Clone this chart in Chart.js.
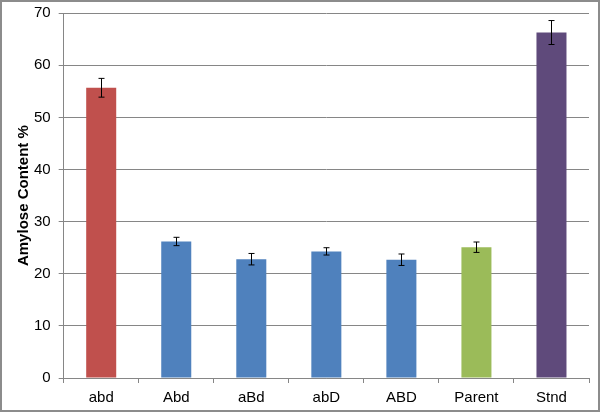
<!DOCTYPE html>
<html>
<head>
<meta charset="utf-8">
<script src="https://cdn.jsdelivr.net/npm/chart.js@4/dist/chart.umd.min.js"></script>
<style>
  html, body { margin: 0; padding: 0; background: #fff; }
  #wrap { width: 600px; height: 412px; position: relative; }
</style>
</head>
<body>
<div id="wrap"><canvas id="chart"></canvas></div>
<script>
// データ
const categories = ['abd', 'Abd', 'aBd', 'abD', 'ABD', 'Parent', 'Stnd'];
const amylose = [55.7, 26.2, 22.8, 24.3, 22.7, 25.1, 66.3];
const errors = [1.8, 0.8, 1.1, 0.7, 1.1, 1.0, 2.3];
const barColors = ['#C0504D', '#4F81BD', '#4F81BD', '#4F81BD', '#4F81BD', '#9BBB59', '#5F4A7B'];

// エラーバー描画
const errorBars = {
    id: 'errorBars',
    afterDatasetsDraw(chart) {
        const ctx = chart.ctx;
        const y = chart.scales.y;
        const meta = chart.getDatasetMeta(0);
        ctx.save();
        ctx.strokeStyle = '#000';
        ctx.lineWidth = 1;
        meta.data.forEach((bar, i) => {
            const x = Math.round(bar.x) + 0.5;
            const top = y.getPixelForValue(amylose[i] + errors[i]);
            const bot = y.getPixelForValue(amylose[i] - errors[i]);
            ctx.beginPath();
            ctx.moveTo(x, top);
            ctx.lineTo(x, bot);
            ctx.moveTo(x - 3, top);
            ctx.lineTo(x + 3, top);
            ctx.moveTo(x - 3, bot);
            ctx.lineTo(x + 3, bot);
            ctx.stroke();
        });
        ctx.restore();
    }
};

// 外枠
const frame = {
    id: 'frame',
    afterDraw(chart) {
        const ctx = chart.ctx;
        ctx.save();
        ctx.strokeStyle = '#8c8c8c';
        ctx.lineWidth = 2;
        ctx.strokeRect(1, 1, chart.width - 2, chart.height - 2);
        ctx.restore();
    }
};

new Chart(document.getElementById('chart'), {
    type: 'bar',
    data: {
        labels: categories,
        datasets: [{
            data: amylose,
            backgroundColor: barColors,
            borderWidth: 0,
            categoryPercentage: 1.0,
            barPercentage: 0.4
        }]
    },
    options: {
        responsive: true,
        maintainAspectRatio: false,
        animation: false,
        layout: { padding: { top: 0, right: 11, left: 15, bottom: 0 } },
        plugins: {
            legend: { display: false },
            tooltip: { enabled: false }
        },
        scales: {
            x: {
                grid: {
                    offset: true,
                    drawOnChartArea: false,
                    drawTicks: true,
                    tickLength: 5,
                    color: '#868686'
                },
                border: { color: '#868686' },
                ticks: {
                    color: '#000',
                    font: { family: 'Liberation Sans', size: 15, lineHeight: 1 },
                    padding: 7
                }
            },
            y: {
                min: 0,
                max: 70,
                ticks: {
                    stepSize: 10,
                    color: '#000',
                    font: { family: 'Liberation Sans', size: 15, lineHeight: 0.7 },
                    padding: 8
                },
                grid: {
                    color: '#868686',
                    tickLength: 5
                },
                border: { color: '#868686' },
                title: {
                    display: true,
                    text: 'Amylose Content %',
                    color: '#000',
                    font: { family: 'Liberation Sans', size: 15, weight: 'bold' },
                    padding: { top: 0, bottom: -7 }
                }
            }
        }
    },
    plugins: [errorBars, frame]
});
</script>
</body>
</html>
